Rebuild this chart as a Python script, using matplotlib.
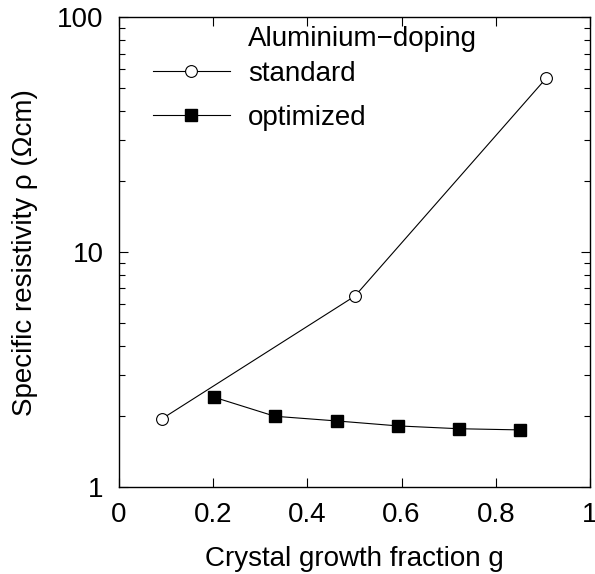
import numpy as np
import matplotlib
matplotlib.use("Agg")
import matplotlib.pyplot as plt
from matplotlib.ticker import LogLocator, NullFormatter, FixedLocator

plt.rcParams["font.family"] = ["Liberation Sans", "DejaVu Sans"]

# Messwerte
g_standard   = [0.091, 0.501, 0.907]
rho_standard = [1.95, 6.5, 55.0]

g_optimized   = [0.202, 0.331, 0.463, 0.592, 0.722, 0.851]
rho_optimized = [2.41, 2.00, 1.91, 1.82, 1.77, 1.75]

x_ticks = [0, 0.2, 0.4, 0.6, 0.8, 1]
x_tick_labels = ["0", "0.2", "0.4", "0.6", "0.8", "1"]
y_ticks = [1, 10, 100]
y_tick_labels = ["1", "10", "100"]

fig = plt.figure(figsize=(5.95, 5.74), dpi=100)
ax = fig.add_axes([0.200, 0.1516, 0.7916, 0.8184])

ax.plot(g_standard, rho_standard, color="black", linewidth=0.8,
        marker="o", markersize=8.5, markerfacecolor="white",
        markeredgecolor="black", markeredgewidth=0.8, label="standard")
ax.plot(g_optimized, rho_optimized, color="black", linewidth=0.8,
        marker="s", markersize=8, markerfacecolor="black",
        markeredgecolor="black", label="optimized")

ax.set_yscale("log")
ax.set_xlim(0, 1)
ax.set_ylim(1, 100)

ax.xaxis.set_major_locator(FixedLocator(x_ticks))
ax.set_xticklabels(x_tick_labels)
ax.yaxis.set_major_locator(FixedLocator(y_ticks))
ax.set_yticklabels(y_tick_labels)
ax.yaxis.set_minor_locator(LogLocator(base=10, subs=np.arange(2, 10)))
ax.yaxis.set_minor_formatter(NullFormatter())

ax.tick_params(which="both", direction="in", top=True, right=True,
               labelsize=20, pad=11)
ax.tick_params(which="major", length=6.5, width=0.8)
ax.tick_params(which="minor", length=4.5, width=0.8)
for s in ax.spines.values():
    s.set_linewidth(1.0)

ax.set_xlabel("Crystal growth fraction g", fontsize=20, labelpad=13)
ax.set_ylabel("Specific resistivity ρ (Ωcm)", fontsize=20, labelpad=14)

# Legende, Titel separat als Text
ax.text(0.274, 0.953, "Aluminium\u2212doping", transform=ax.transAxes,
        fontsize=20, ha="left", va="center")
ax.legend(loc="upper left", bbox_to_anchor=(0.072, 0.907),
          frameon=False, fontsize=20, handlelength=2.77,
          handletextpad=0.65, labelspacing=0.65,
          borderpad=0, borderaxespad=0)

fig.savefig("out.png", dpi=100)
